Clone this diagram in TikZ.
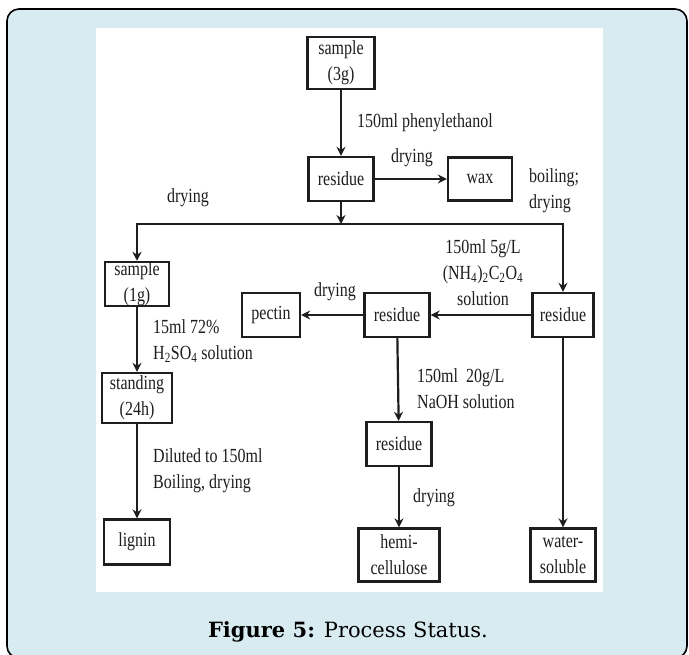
\documentclass[tikz,border=0pt]{standalone}
\usepackage{fontspec}
\setmainfont{Liberation Serif}[FakeStretch=0.8]
\newfontfamily\capfont{DejaVu Serif}
\usetikzlibrary{arrows.meta,positioning}
\definecolor{panelblue}{RGB}{215,235,241}
\definecolor{inkgray}{RGB}{30,30,30}
\tikzset{
  stage/.style={draw=inkgray, line width=2.3pt, align=center, inner sep=0pt,
    font=\fontsize{20}{26}\selectfont, text=inkgray},
  flab/.style={font=\fontsize{20}{26}\selectfont, align=left, inner sep=0pt, text=inkgray},
  farr/.style={-{Stealth[length=9pt,width=9pt]}, line width=2.2pt, draw=inkgray},
  capt/.style={font=\capfont\fontsize{21}{26}\selectfont, anchor=base, text=black},
}

\begin{document}
\begin{tikzpicture}[x=1pt,y=-1pt]
\useasboundingbox (0,0) rectangle (689,655);
\draw[line width=1.6pt, fill=panelblue, rounded corners=12pt] (7,9) rectangle (687,658);
\fill[white] (96,28) rectangle (603,592);

\node[stage, minimum width=67pt, minimum height=52pt] (s3) at (341,63) {sample\\(3g)};
\node[stage, minimum width=65pt, minimum height=44pt] (r1) at (341,179) {residue};
\node[stage, minimum width=64pt, minimum height=43pt] (wax) at (480,179) {wax};
\node[stage, minimum width=64pt, minimum height=44pt] (s1) at (137,284) {sample\\(1g)};
\node[stage, minimum width=61pt, minimum height=44pt] (r2) at (563,315) {residue};
\node[stage, minimum width=65pt, minimum height=44pt] (r3) at (397,315) {residue};
\node[stage, minimum width=58pt, minimum height=44pt] (pectin) at (271,315) {pectin};
\node[stage, minimum width=70pt, minimum height=50pt] (stand) at (137,398) {standing\\(24h)};
\node[stage, minimum width=65pt, minimum height=44pt] (r4) at (399,444) {residue};
\node[stage, minimum width=66pt, minimum height=45pt] (lignin) at (137,542) {lignin};
\node[stage, minimum width=81pt, minimum height=53pt] (hemi) at (399,555) {hemi-\\cellulose};
\node[stage, minimum width=65pt, minimum height=53pt] (water) at (563,555) {water-\\soluble};
\coordinate (split) at (341,224);

\node[flab, anchor=west] (lphen) at (357,123) {150ml phenylethanol};
\node[flab] (ldry1) at (412,158) {drying};
\node[flab] (ldry2) at (188,198) {drying};
\node[flab, anchor=west] (lboil) at (529,191) {boiling;\\drying};
\node[flab, align=center] (loxa) at (483,273) {150ml 5g/L\\(NH\textsubscript{4})\textsubscript{2}C\textsubscript{2}O\textsubscript{4}\\solution};
\node[flab] (ldry3) at (335,292) {drying};
\node[flab, anchor=west] (lacid) at (153,341) {15ml 72\%\\H\textsubscript{2}SO\textsubscript{4} solution};
\node[flab, anchor=west] (lnaoh) at (417,389) {150ml\ \ 20g/L\\NaOH solution};
\node[flab, anchor=west] (ldil) at (153,471) {Diluted to 150ml\\Boiling, drying};
\node[flab, anchor=west] (ldry4) at (413,498) {drying};

\draw[farr] (s3) -- (r1);
\draw[farr] (r1) -- (wax);
\draw[farr] (r1) -- (split);
\draw[farr] (split) -| (s1);
\draw[farr] (split) -| (r2);
\draw[farr] (r2) -- (r3);
\draw[farr] (r3) -- (pectin);
\draw[farr] (r3) -- (r4);
\draw[farr] (r4) -- (hemi);
\draw[farr] (r2) -- (water);
\draw[farr] (s1) -- (stand);
\draw[farr] (stand) -- (lignin);

\node[capt] (cap) at (348,637) {\textbf{Figure 5:} Process Status.};
\end{tikzpicture}
\end{document}
